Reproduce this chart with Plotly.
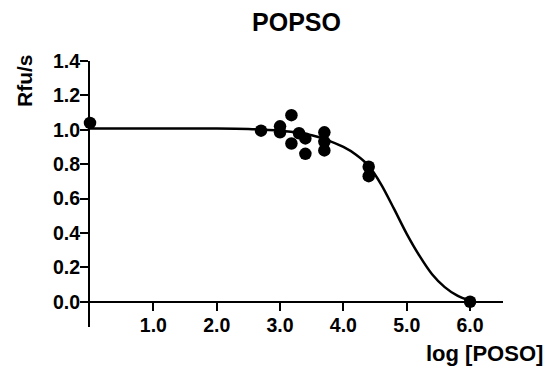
import plotly.graph_objects as go

# data points (log [POSO], Rfu/s)
pts_x = [0.0, 2.7, 3.0, 3.0, 3.18, 3.18, 3.3, 3.4, 3.4, 3.7, 3.7, 3.7, 4.4, 4.4, 6.0]
pts_y = [1.04, 0.995, 1.02, 0.985, 1.085, 0.92, 0.98, 0.95, 0.86, 0.985, 0.93, 0.88, 0.785, 0.73, 0.0]

# fitted curve
curve_x = [0.0, 1.0, 2.0, 2.5, 3.0, 3.3, 3.5, 3.7, 4.0, 4.2, 4.4, 4.6, 4.8, 5.0, 5.2, 5.4, 5.6, 5.8, 6.0]
curve_y = [1.008, 1.008, 1.007, 1.004, 0.995, 0.983, 0.968, 0.946, 0.90, 0.855, 0.79, 0.68, 0.54, 0.395, 0.268, 0.16, 0.085, 0.035, 0.005]

x_ticks = [1, 2, 3, 4, 5, 6]
x_labels = ["1.0", "2.0", "3.0", "4.0", "5.0", "6.0"]
y_ticks = [0.0, 0.2, 0.4, 0.6, 0.8, 1.0, 1.2, 1.4]
y_labels = ["0.0", "0.2", "0.4", "0.6", "0.8", "1.0", "1.2", "1.4"]

FONT = "Liberation Sans, Arial, sans-serif"
W, H = 552, 372
L, R, T, B = 90, 49, 61, 45
pw, ph = W - L - R, H - T - B
xr = [0, 6.52]
yr = [-0.147, 1.4]
xpos = (0 - yr[0]) / (yr[1] - yr[0])

fig = go.Figure()
fig.add_trace(go.Scatter(x=curve_x, y=curve_y, mode="lines",
                         line=dict(color="black", width=2.5, shape="spline", smoothing=0.8),
                         hoverinfo="skip", showlegend=False, cliponaxis=False))
fig.add_trace(go.Scatter(x=pts_x, y=pts_y, mode="markers",
                         marker=dict(color="black", size=12.5),
                         showlegend=False, cliponaxis=False))

fig.update_layout(
    width=W, height=H,
    margin=dict(l=L, r=R, t=T, b=B, pad=0),
    paper_bgcolor="white", plot_bgcolor="white",
    font=dict(family=FONT, color="black"),
    title=dict(text="<b>POPSO</b>", font=dict(size=25, family=FONT, color="black"),
               xref="paper", x=0.5, xanchor="center",
               yref="container", y=1 - 22 / H, yanchor="middle"),
    xaxis=dict(range=xr, anchor="free", position=xpos,
               showgrid=False, zeroline=False,
               showline=True, linecolor="black", linewidth=2,
               ticks="outside", ticklen=8, tickwidth=2, tickcolor="black",
               tickvals=x_ticks, ticktext=x_labels, ticklabelstandoff=-2,
               tickfont=dict(size=19.5, family=FONT, color="black", weight="bold")),
    yaxis=dict(range=yr, showgrid=False, zeroline=False,
               showline=True, linecolor="black", linewidth=2,
               ticks="outside", ticklen=8, tickwidth=2, tickcolor="black",
               tickvals=y_ticks, ticktext=y_labels, ticklabelstandoff=-4,
               tickfont=dict(size=19.5, family=FONT, color="black", weight="bold")),
    annotations=[
        dict(text="<b>Rfu/s</b>", xref="paper", yref="paper",
             x=(24 - L) / pw, y=(H - B - 81) / ph, xanchor="center", yanchor="middle",
             textangle=-90, showarrow=False, font=dict(size=21, family=FONT, color="black")),
        dict(text="<b>log [POSO]</b>", xref="paper", yref="paper",
             x=(545 - L) / pw, y=(H - B - 353) / ph, xanchor="right", yanchor="middle",
             showarrow=False, font=dict(size=22, family=FONT, color="black")),
    ],
)

fig.write_html("out.html")
